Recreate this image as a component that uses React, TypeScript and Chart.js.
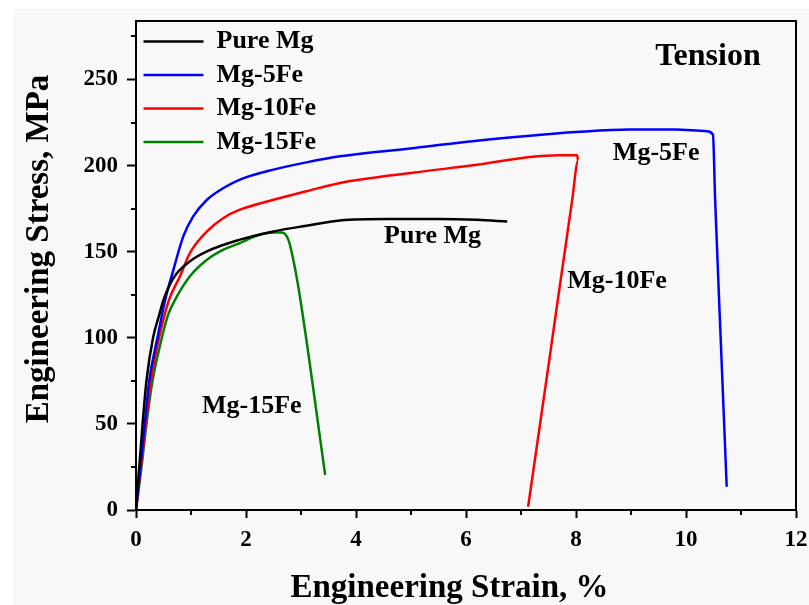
import React, { useEffect, useRef } from 'react';
import { Chart, registerables } from 'chart.js';

Chart.register(...registerables);

const FONT = "'Liberation Serif', 'Times New Roman', serif";

const SERIES_NAMES = ['Pure Mg', 'Mg-5Fe', 'Mg-10Fe', 'Mg-15Fe'];
const SERIES_COLORS = ['#000000', '#0000ff', '#ff0000', '#008000'];

const pureMgStrain = [0, 0.03, 0.06, 0.12, 0.19, 0.31, 0.42, 0.5, 0.68, 0.98, 1.29, 1.89, 2.5, 3.1, 3.71, 4.6, 5.5, 6.2, 6.75];
const pureMgStress = [0, 14, 25, 50, 75, 100, 113, 122, 134.7, 144.4, 150.2, 157, 161.8, 165.1, 168.2, 169, 169, 168.5, 167.5];

const mg5FeStrain = [0, 0.08, 0.16, 0.24, 0.39, 0.53, 0.68, 0.86, 1.04, 1.29, 1.59, 1.89, 2.5, 3.1, 3.71, 5.07, 6.2, 7.16, 8.0, 8.98, 9.8, 10.38, 10.49, 10.53, 10.63, 10.74];
const mg5FeStress = [0, 25, 50, 75, 100, 122, 139.5, 158.9, 170.5, 180.2, 187, 191.9, 197.7, 201.9, 205.4, 210.3, 214.5, 217.4, 219.5, 221, 221, 220, 218, 180, 100, 13.5];

const mg10FeStrain = [0, 0.09, 0.18, 0.27, 0.42, 0.6, 0.8, 0.98, 1.29, 1.59, 1.89, 2.5, 3.1, 3.71, 5.07, 6.2, 7.16, 7.7, 8.02, 8.04, 7.93, 7.5, 7.13];
const mg10FeStress = [0, 25, 50, 75, 100, 122, 135.7, 149.2, 161.8, 169.6, 174.4, 180.2, 185.1, 189.9, 196, 200.5, 205, 206, 206, 203, 180, 84, 2];

const mg15FeStrain = [0, 0.1, 0.19, 0.3, 0.47, 0.58, 0.71, 0.98, 1.29, 1.59, 1.89, 2.19, 2.5, 2.65, 2.77, 2.86, 2.98, 3.44];
const mg15FeStress = [0, 25, 50, 75, 100, 113, 122, 135.7, 145.3, 151.2, 155, 159.3, 161.2, 161.2, 157, 145.3, 124, 20.3];

const X_MIN = 0;
const X_MAX = 12;
const Y_MIN = 0;
const Y_MAX = 284;
const X_MINOR_TICKS = [1, 3, 5, 7, 9, 11];
const Y_MINOR_TICKS = [25, 75, 125, 175, 225, 275];

const ANNOTATION_TEXTS = ['Tension', 'Mg-5Fe', 'Pure Mg', 'Mg-10Fe', 'Mg-15Fe'];
const ANNOTATION_X = [9.44, 8.67, 4.51, 7.84, 1.2];
const ANNOTATION_Y = [258.7, 203.5, 155.2, 129, 56.4];

const toPoints = (xs: number[], ys: number[]) => xs.map((x, i) => ({ x, y: ys[i] }));

const SERIES_DATA = [
  toPoints(pureMgStrain, pureMgStress),
  toPoints(mg5FeStrain, mg5FeStress),
  toPoints(mg10FeStrain, mg10FeStress),
  toPoints(mg15FeStrain, mg15FeStress),
];

const decorPlugin = {
  id: 'decor',
  afterDraw(chart: any) {
    const { ctx } = chart;
    const xs = chart.scales.x;
    const ys = chart.scales.y;
    const left = Math.round(xs.getPixelForValue(X_MIN));
    const right = Math.round(xs.getPixelForValue(X_MAX));
    const top = Math.round(ys.getPixelForValue(Y_MAX));
    const bottom = Math.round(ys.getPixelForValue(Y_MIN));
    ctx.save();
    ctx.fillStyle = '#000000';
    ctx.fillRect(left - 1, top - 1, right - left + 2, 2);
    ctx.fillRect(right - 1, top - 1, 2, bottom - top + 2);
    X_MINOR_TICKS.forEach((v) => {
      const px = Math.round(xs.getPixelForValue(v));
      ctx.fillRect(px - 1, bottom, 2, 5);
    });
    Y_MINOR_TICKS.forEach((v) => {
      const py = Math.round(ys.getPixelForValue(v));
      ctx.fillRect(left - 5, py - 1, 5, 2);
    });
    ctx.textAlign = 'left';
    ctx.textBaseline = 'alphabetic';
    ANNOTATION_TEXTS.forEach((t, i) => {
      ctx.font = `bold ${i === 0 ? 32 : 26}px ${FONT}`;
      ctx.fillText(t, xs.getPixelForValue(ANNOTATION_X[i]), ys.getPixelForValue(ANNOTATION_Y[i]));
    });
    ctx.restore();
  },
};

const frameAxis = (position: string, min: number, max: number, horizontal: boolean) => ({
  type: 'linear',
  position,
  min,
  max,
  ticks: { display: false },
  grid: { display: false, drawTicks: false },
  border: { display: true, color: '#000000', width: 2 },
  afterFit: (s: any) => {
    if (horizontal) {
      s.height = 0;
      s.paddingLeft = 0;
      s.paddingRight = 0;
    } else {
      s.width = 0;
      s.paddingTop = 0;
      s.paddingBottom = 0;
    }
  },
});

export default function App() {
  const ref = useRef<HTMLCanvasElement>(null);
  useEffect(() => {
    if (!ref.current) return;
    const chart = new Chart(ref.current, {
      type: 'line',
      data: {
        datasets: SERIES_DATA.map((d, i) => ({
          label: SERIES_NAMES[i],
          data: d,
          borderColor: SERIES_COLORS[i],
          backgroundColor: SERIES_COLORS[i],
          borderWidth: 2.5,
          pointRadius: 0,
          cubicInterpolationMode: 'monotone',
          fill: false,
        })),
      },
      options: {
        animation: false,
        responsive: false,
        maintainAspectRatio: false,
        layout: { padding: { left: 0, top: 21, right: 13, bottom: 0 } },
        plugins: {
          legend: {
            position: 'chartArea',
            align: 'start',
            title: { display: true, text: '', padding: 0, font: { size: 21, lineHeight: 1 } },
            labels: {
              usePointStyle: true,
              pointStyle: 'line',
              pointStyleWidth: 60,
              color: '#000',
              padding: 7.5,
              font: { family: FONT, size: 26, weight: 'bold' },
            },
          },
          tooltip: { enabled: false },
        },
        scales: {
          x: {
            type: 'linear',
            position: 'bottom',
            min: X_MIN,
            max: X_MAX,
            ticks: {
              stepSize: 2,
              color: '#000',
              padding: 8,
              maxRotation: 0,
              font: { family: FONT, size: 23, weight: 'bold' },
            },
            grid: { drawOnChartArea: false, tickLength: 8, tickWidth: 2, tickColor: '#000' },
            border: { color: '#000', width: 2 },
            title: {
              display: true,
              text: 'Engineering Strain, %    ',
              color: '#000',
              padding: 0,
              font: { family: FONT, size: 33, weight: 'bold', lineHeight: 1 },
            },
            afterFit: (s: any) => {
              s.height = 95;
              s.paddingLeft = 0;
              s.paddingRight = 0;
            },
          },
          y: {
            type: 'linear',
            position: 'left',
            min: Y_MIN,
            max: Y_MAX,
            ticks: {
              stepSize: 50,
              includeBounds: false,
              color: '#000',
              padding: 9,
              font: { family: FONT, size: 23, weight: 'bold' },
            },
            grid: { drawOnChartArea: false, tickLength: 9, tickWidth: 2, tickColor: '#000' },
            border: { color: '#000', width: 2 },
            title: {
              display: true,
              text: '    Engineering Stress, MPa',
              color: '#000',
              padding: { top: 23, bottom: 0 },
              font: { family: FONT, size: 33, weight: 'bold', lineHeight: 1 },
            },
            afterFit: (s: any) => {
              s.width = 136;
              s.paddingTop = 0;
              s.paddingBottom = 0;
            },
          },
          xTop: frameAxis('top', X_MIN, X_MAX, true),
          yRight: frameAxis('right', Y_MIN, Y_MAX, false),
        },
      } as any,
      plugins: [decorPlugin],
    });
    return () => chart.destroy();
  }, []);
  return (
    <div style={{ position: 'absolute', left: 0, top: 0, width: 809, height: 605, background: '#ffffff' }}>
      <div style={{ position: 'absolute', left: 13, top: 9, width: 796, height: 596, background: '#f8f8f8' }} />
      <canvas
        ref={ref}
        width={809}
        height={605}
        style={{ position: 'absolute', left: 0, top: 0, display: 'block', width: 809, height: 605 }}
      />
      <div
        style={{
          position: 'absolute',
          left: 135,
          top: 20,
          width: 662,
          height: 491,
          boxSizing: 'border-box',
          borderTop: '2px solid #000',
          borderRight: '2px solid #000',
          pointerEvents: 'none',
        }}
      />
    </div>
  );
}
